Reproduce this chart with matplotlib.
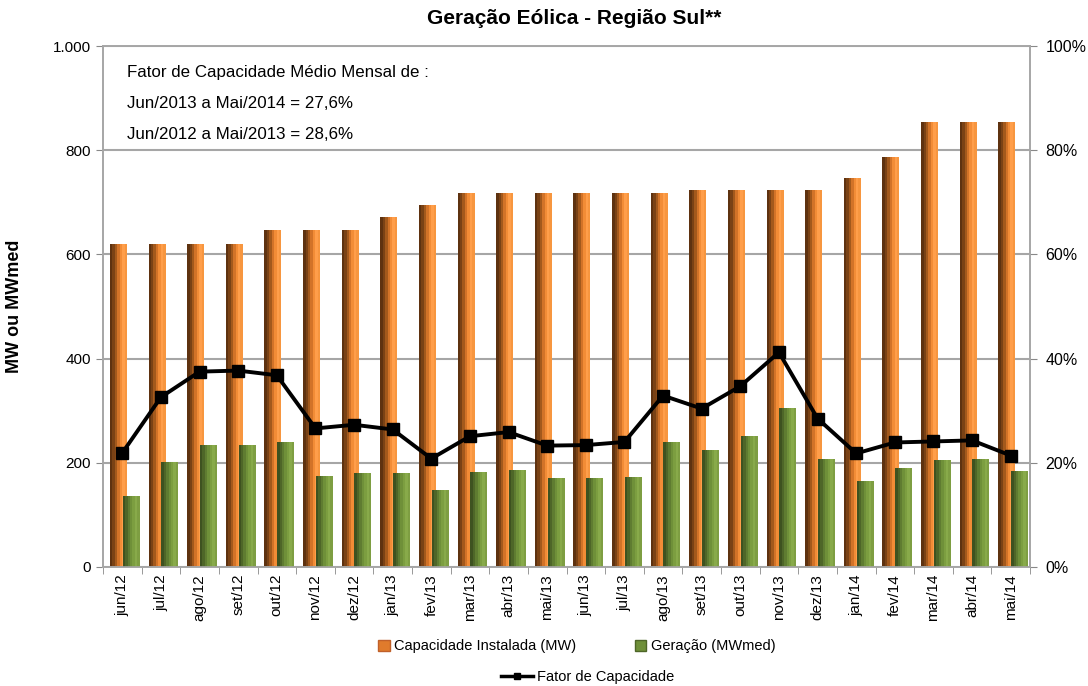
import matplotlib.pyplot as plt
import numpy as np
from matplotlib.lines import Line2D
from matplotlib.patches import Patch

meses = ['jun/12', 'jul/12', 'ago/12', 'set/12', 'out/12', 'nov/12', 'dez/12', 'jan/13',
         'fev/13', 'mar/13', 'abr/13', 'mai/13', 'jun/13', 'jul/13', 'ago/13', 'set/13',
         'out/13', 'nov/13', 'dez/13', 'jan/14', 'fev/14', 'mar/14', 'abr/14', 'mai/14']
capacidade = [620, 620, 620, 620, 647, 647, 647, 672, 695, 717, 717, 717,
              717, 717, 717, 724, 724, 724, 724, 746, 786, 854, 854, 854]
geracao = [137, 202, 235, 235, 240, 175, 180, 180, 147, 182, 187, 170,
           170, 173, 240, 224, 252, 305, 208, 165, 190, 206, 208, 185]
fator = [21.9, 32.6, 37.5, 37.7, 36.8, 26.6, 27.3, 26.4, 20.8, 25.1, 25.9, 23.3,
         23.4, 24.0, 32.9, 30.4, 34.7, 41.2, 28.5, 21.8, 23.9, 24.1, 24.3, 21.4]
esq_ticks = [0, 200, 400, 600, 800, 1000]
esq_labels = ['0', '200', '400', '600', '800', '1.000']
dir_ticks = [0, 20, 40, 60, 80, 100]

plt.rcParams['font.family'] = ['Liberation Sans', 'DejaVu Sans']

fig = plt.figure(figsize=(10.88, 6.86), dpi=100)
ax = fig.add_axes([103 / 1088, 1 - 567 / 686, (1030 - 103) / 1088, (567 - 46) / 686])
ax2 = ax.twinx()

x = np.arange(len(meses))

# cilindros: varias fatias finas por barra
laranja = ['#5E3210', '#7A4215', '#A3591C', '#D27328', '#F28C36', '#FF9E4A', '#F7963F']
verde = ['#3E5220', '#4E6628', '#5F7C31', '#6F9039', '#7C9E40', '#88AA4A', '#7E9E42']
w = 0.44
n = len(laranja)
for k in range(n):
    off = -w / 2 + (k + 0.5) * w / n
    ax.bar(x - 0.1 + off, capacidade, width=w / n, color=laranja[k], zorder=2, linewidth=0)
    ax.bar(x + 0.23 + off, geracao, width=w / n, color=verde[k], zorder=3, linewidth=0)

ax.set_xlim(-0.5, len(meses) - 0.5)
ax.set_ylim(0, 1000)
ax.set_yticks(esq_ticks)
ax.set_yticklabels(esq_labels, fontsize=11)
ax.yaxis.grid(True, color='#A6A6A6', linewidth=1.5, zorder=0)
ax.set_axisbelow(True)
ax.set_xticks(x)
ax.set_xticklabels(meses, rotation=90, fontsize=11)
ax.set_xticks(np.arange(len(meses) + 1) - 0.5, minor=True)
ax.tick_params(axis='x', which='major', length=0, pad=5)
ax.tick_params(axis='x', which='minor', length=5, color='#888888')
ax.tick_params(axis='y', length=5, color='#888888')
for s in ax.spines.values():
    s.set_color('#A6A6A6')
    s.set_linewidth(1.2)
ax.set_ylabel('MW ou MWmed', fontsize=13, fontweight='bold', labelpad=22)

ax2.plot(x, fator, color='black', linewidth=2.8, marker='s', markersize=8, zorder=5)
ax2.set_ylim(0, 100)
ax2.set_yticks(dir_ticks)
ax2.set_yticklabels([f'{t}%' for t in dir_ticks], fontsize=11.5)
ax2.tick_params(axis='y', length=5, color='#888888', pad=6)
for s in ax2.spines.values():
    s.set_color('#A6A6A6')
    s.set_linewidth(1.2)

fig.text(0.528, 0.973, 'Geração Eólica - Região Sul**', ha='center', va='center',
         fontsize=15, fontweight='bold')

ax.text(0.026, 0.95, 'Fator de Capacidade Médio Mensal de :', transform=ax.transAxes,
        fontsize=12.2, va='center')
ax.text(0.026, 0.89, 'Jun/2013 a Mai/2014 = 27,6%', transform=ax.transAxes,
        fontsize=12.2, va='center')
ax.text(0.026, 0.83, 'Jun/2012 a Mai/2013 = 28,6%', transform=ax.transAxes,
        fontsize=12.2, va='center')

h1 = [Patch(facecolor='#E07B2C', edgecolor='#C0602A'), Patch(facecolor='#6F9039', edgecolor='#4E6628')]
fig.legend(h1, ['Capacidade Instalada (MW)', 'Geração (MWmed)'], loc='center',
           bbox_to_anchor=(0.53, 0.058), ncol=2, frameon=False, fontsize=10.5,
           handlelength=0.8, handleheight=0.8, handletextpad=0.3, columnspacing=4)
h2 = [Line2D([0], [0], color='black', linewidth=2.5, marker='s', markersize=5)]
fig.legend(h2, ['Fator de Capacidade'], loc='center', bbox_to_anchor=(0.54, 0.013),
           frameon=False, fontsize=10.5, handlelength=2.2, handletextpad=0.3)

fig.savefig('out.png', dpi=100)
